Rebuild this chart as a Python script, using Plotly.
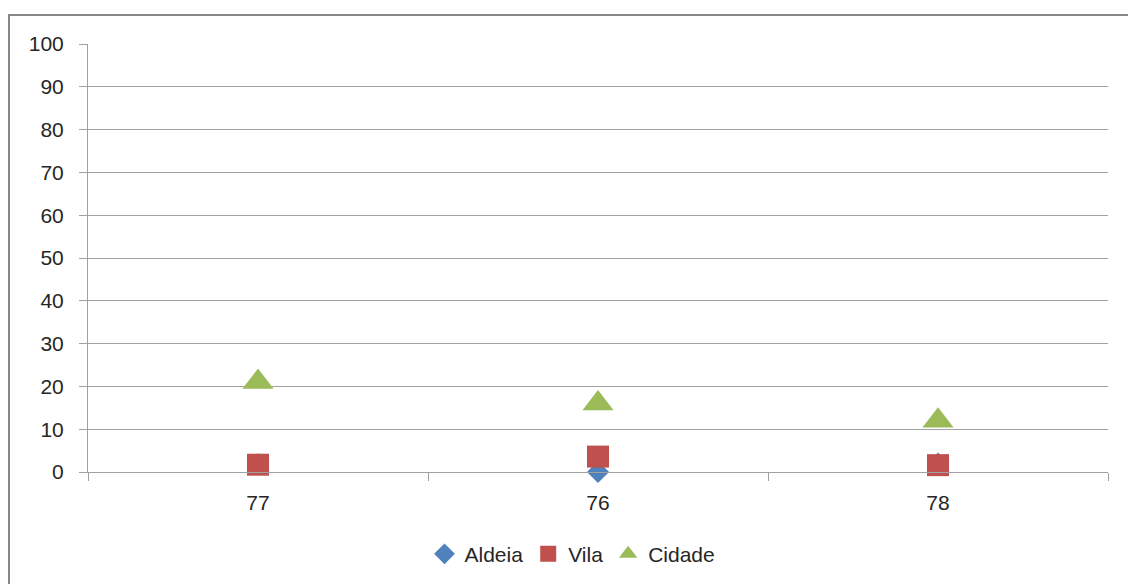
import plotly.graph_objects as go

# Categories and series values
categories = ["77", "76", "78"]
aldeia = [1.8, 0.0, 2.0]
vila = [1.7, 3.6, 1.6]
cidade = [21, 16, 12]
y_ticks = list(range(0, 101, 10))

font_family = "Liberation Sans, Arial, sans-serif"
text_color = "#262626"
grid_color = "#a0a0a0"

fig = go.Figure()
fig.add_trace(go.Scatter(
    x=categories, y=aldeia, name="Aldeia", mode="markers", cliponaxis=False,
    marker=dict(symbol="diamond", size=17, color="#4F81BD"),
))
fig.add_trace(go.Scatter(
    x=categories, y=vila, name="Vila", mode="markers", cliponaxis=False,
    marker=dict(symbol="square", size=22, color="#C0504D"),
))
fig.add_trace(go.Scatter(
    x=categories, y=cidade, name="Cidade", mode="markers", cliponaxis=False,
    marker=dict(symbol="triangle-up", size=27, color="#9BBB59"),
))

L, R, T, B = 88, 20, 44, 112
W, H = 1128, 584
pw, ph = W - L - R, H - T - B

# Outer chart frame
fig.add_shape(
    type="rect", xref="paper", yref="paper",
    x0=(9 - L) / pw, x1=1.2, y0=-0.5, y1=1 + (T - 15) / ph,
    line=dict(color="#878787", width=2), fillcolor="rgba(0,0,0,0)",
)

fig.update_layout(
    width=W, height=H,
    margin=dict(l=L, r=R, t=T, b=B, autoexpand=False),
    paper_bgcolor="white", plot_bgcolor="white",
    font=dict(family=font_family, size=21, color=text_color),
    showlegend=True,
    legend=dict(
        orientation="h", x=0.475, xanchor="center", y=-0.192, yanchor="middle",
        font=dict(size=21), itemsizing="trace", traceorder="normal",
        itemwidth=30, tracegroupgap=0,
    ),
    xaxis=dict(
        type="category", categoryorder="array", categoryarray=categories,
        range=[-0.5, 2.5], showgrid=False, zeroline=False,
        showline=True, linecolor=grid_color, linewidth=1,
        ticks="outside", ticklen=8, tickcolor=grid_color, tickson="boundaries",
        tickfont=dict(size=21, color=text_color), ticklabelstandoff=12,
    ),
    yaxis=dict(
        range=[0, 100], tickvals=y_ticks, showgrid=True, gridcolor=grid_color,
        gridwidth=1, zeroline=False, showline=True, linecolor=grid_color,
        linewidth=1, ticks="outside", ticklen=8, tickcolor=grid_color,
        tickfont=dict(size=21, color=text_color), ticklabelstandoff=11,
    ),
)

fig.write_html("out.html")
